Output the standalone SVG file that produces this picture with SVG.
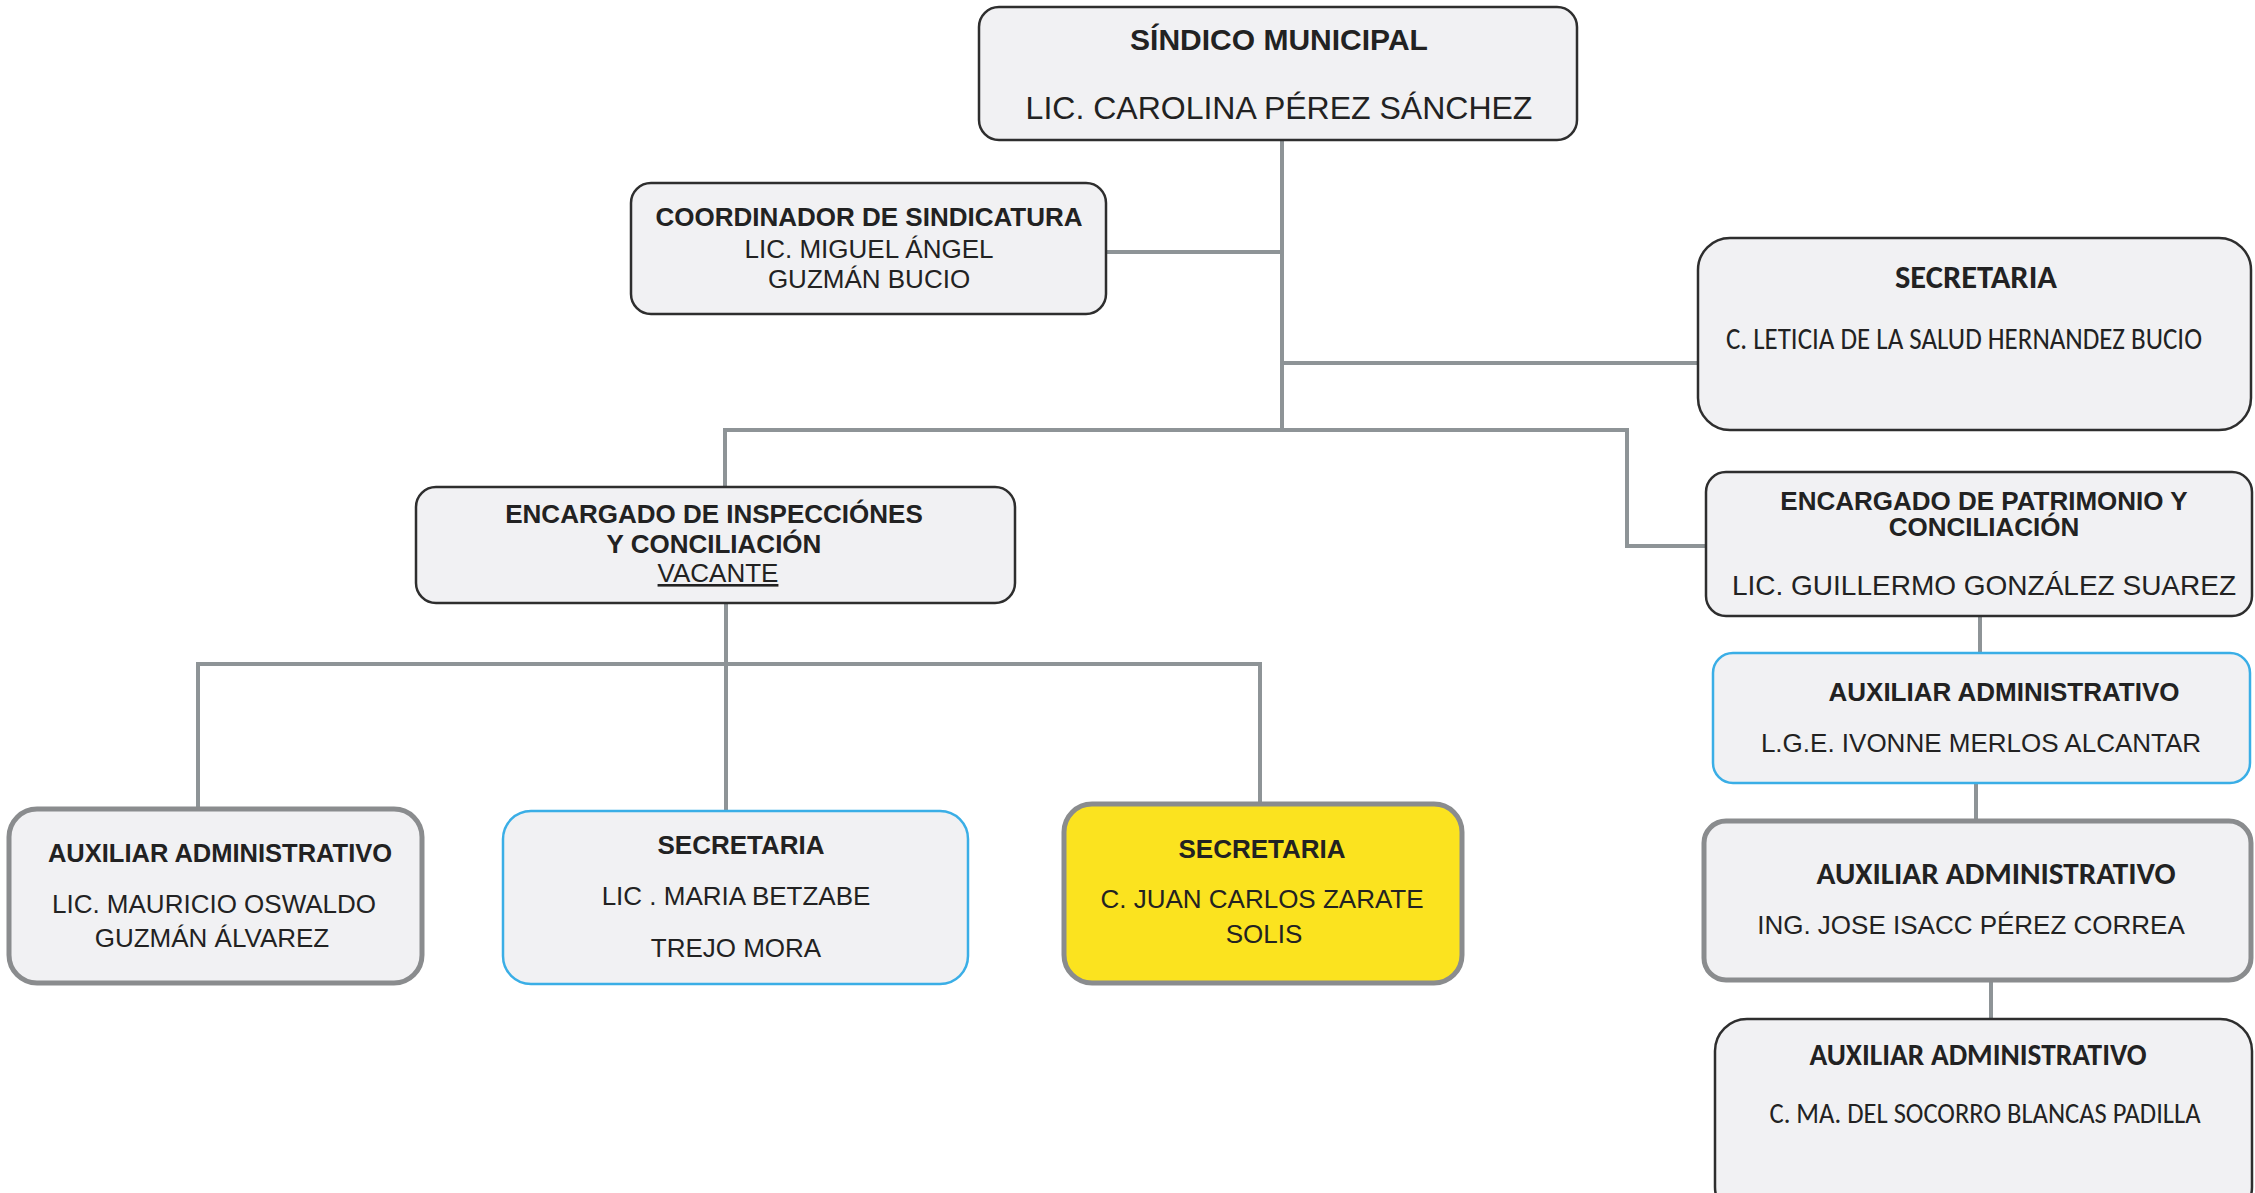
<svg xmlns="http://www.w3.org/2000/svg" width="2255" height="1193" viewBox="0 0 2255 1193">
<style>
.box{fill:#f1f1f3;stroke:#2e2e2e;stroke-width:2.5}
.gbox{fill:#f1f1f3;stroke:#8a8c8e;stroke-width:5}
.bbox{fill:#f1f1f3;stroke:#3aaee6;stroke-width:2.5}
.ybox{fill:#fbe31f;stroke:#8a8c8e;stroke-width:5}
.con{fill:none;stroke:#8e9497;stroke-width:4}
text{fill:#222;font-family:"Liberation Sans",Arial,sans-serif;text-anchor:middle}
.b{font-weight:bold}
.c{font-family:Carlito,Lato,"Open Sans",sans-serif}
</style>
<rect width="2255" height="1193" fill="#ffffff"/>
<g id="connectors">
<line class="con" x1="1282" y1="140" x2="1282" y2="431"/>
<line class="con" x1="1106" y1="252" x2="1282" y2="252"/>
<line class="con" x1="1282" y1="363" x2="1698" y2="363"/>
<polyline class="con" points="725,487 725,430 1627,430 1627,546 1706,546"/>
<line class="con" x1="726" y1="603" x2="726" y2="810"/>
<polyline class="con" points="198,808 198,664 1260,664 1260,803"/>
<line class="con" x1="1980" y1="616" x2="1980" y2="652"/>
<line class="con" x1="1976" y1="782" x2="1976" y2="820"/>
<line class="con" x1="1991" y1="980" x2="1991" y2="1018"/>
</g>
<g id="sindico">
<rect class="box" x="979" y="7" width="598" height="133" rx="20"/>
<text class="b" x="1279" y="50" font-size="30">SÍNDICO MUNICIPAL</text>
<text x="1279" y="119" font-size="32">LIC. CAROLINA PÉREZ SÁNCHEZ</text>
</g>
<g id="coordinador">
<rect class="box" x="631" y="183" width="475" height="131" rx="20"/>
<text class="b" x="869" y="226" font-size="26">COORDINADOR DE SINDICATURA</text>
<text x="869" y="258" font-size="26">LIC. MIGUEL ÁNGEL</text>
<text x="869" y="288" font-size="26">GUZMÁN BUCIO</text>
</g>
<g id="secretaria-general">
<rect class="box" x="1698" y="238" width="553" height="192" rx="32"/>
<text class="b c" x="1895" y="288" font-size="32" style="text-anchor:start" textLength="162" lengthAdjust="spacingAndGlyphs">SECRETARIA</text>
<text class="c" x="1726" y="349" font-size="30" style="text-anchor:start" textLength="476" lengthAdjust="spacingAndGlyphs">C. LETICIA DE LA SALUD HERNANDEZ BUCIO</text>
</g>
<g id="inspecciones">
<rect class="box" x="416" y="487" width="599" height="116" rx="20"/>
<text class="b" x="714" y="523" font-size="26">ENCARGADO DE INSPECCIÓNES</text>
<text class="b" x="714" y="553" font-size="26">Y CONCILIACIÓN</text>
<text x="718" y="582" font-size="26" text-decoration="underline">VACANTE</text>
</g>
<g id="patrimonio">
<rect class="box" x="1706" y="472" width="546" height="144" rx="20"/>
<text class="b" x="1984" y="510" font-size="26">ENCARGADO DE PATRIMONIO Y</text>
<text class="b" x="1984" y="536" font-size="26">CONCILIACIÓN</text>
<text x="1984" y="595" font-size="28">LIC. GUILLERMO GONZÁLEZ SUAREZ</text>
</g>
<g id="auxiliar-ivonne">
<rect class="bbox" x="1713" y="653" width="537" height="130" rx="20"/>
<text class="b" x="2004" y="701" font-size="26">AUXILIAR ADMINISTRATIVO</text>
<text x="1981" y="752" font-size="26">L.G.E. IVONNE MERLOS ALCANTAR</text>
</g>
<g id="auxiliar-jose">
<rect class="gbox" x="1704" y="821" width="547" height="159" rx="22"/>
<text class="b c" x="1996" y="884" font-size="31" textLength="359" lengthAdjust="spacingAndGlyphs">AUXILIAR ADMINISTRATIVO</text>
<text x="1971" y="934" font-size="26">ING. JOSE ISACC PÉREZ CORREA</text>
</g>
<g id="auxiliar-socorro">
<rect class="box" x="1715" y="1019" width="537" height="200" rx="32"/>
<text class="b c" x="1978" y="1065" font-size="31" textLength="337" lengthAdjust="spacingAndGlyphs">AUXILIAR ADMINISTRATIVO</text>
<text class="c" x="1985" y="1123" font-size="29" textLength="431" lengthAdjust="spacingAndGlyphs">C. MA. DEL SOCORRO BLANCAS PADILLA</text>
</g>
<g id="auxiliar-mauricio">
<rect class="gbox" x="9" y="809" width="413" height="174" rx="28"/>
<text class="b" x="220" y="862" font-size="25.5">AUXILIAR ADMINISTRATIVO</text>
<text x="214" y="913" font-size="26">LIC. MAURICIO OSWALDO</text>
<text x="212" y="947" font-size="26">GUZMÁN  ÁLVAREZ</text>
</g>
<g id="secretaria-maria">
<rect class="bbox" x="503" y="811" width="465" height="173" rx="28"/>
<text class="b" x="741" y="854" font-size="26">SECRETARIA</text>
<text x="736" y="905" font-size="26">LIC . MARIA BETZABE</text>
<text x="736" y="957" font-size="26">TREJO MORA</text>
</g>
<g id="secretaria-juan">
<rect class="ybox" x="1064" y="804" width="398" height="179" rx="28"/>
<text class="b" x="1262" y="858" font-size="26">SECRETARIA</text>
<text x="1262" y="908" font-size="26">C. JUAN CARLOS ZARATE</text>
<text x="1264" y="943" font-size="26">SOLIS</text>
</g>
</svg>
